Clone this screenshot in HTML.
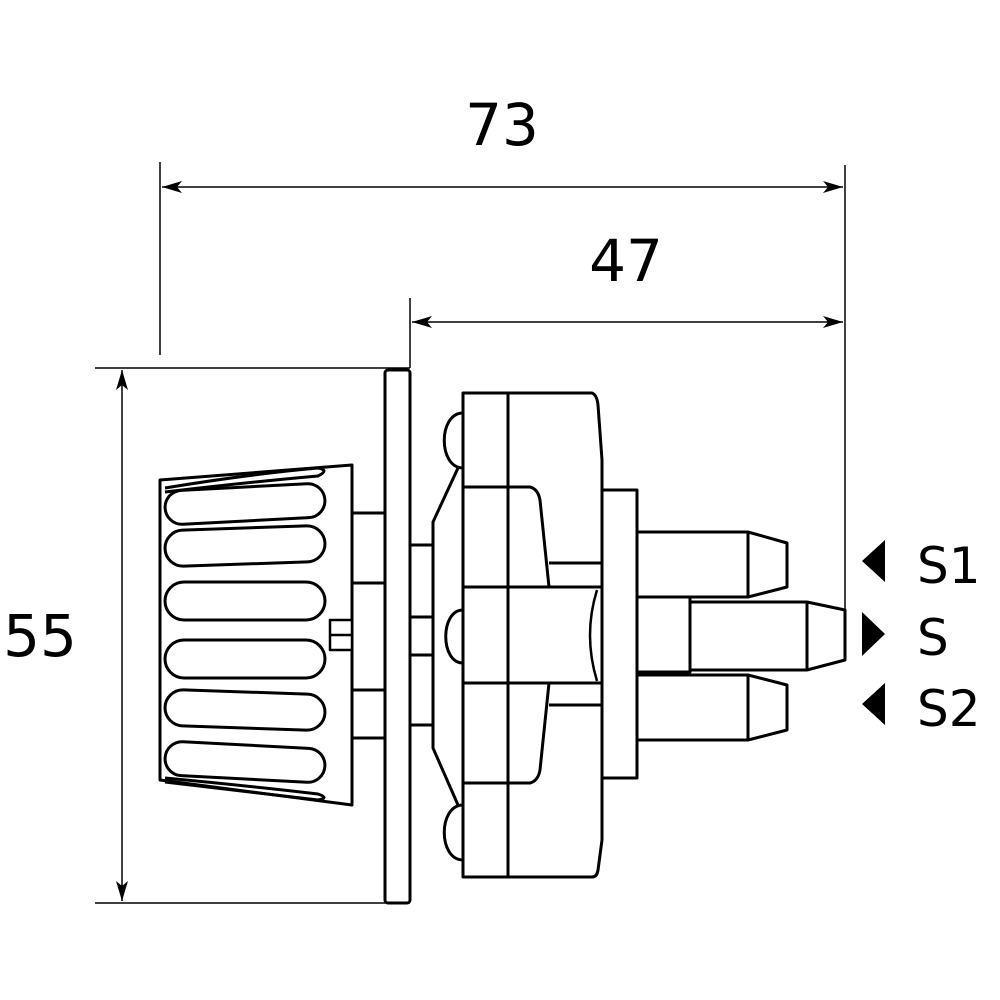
<!DOCTYPE html>
<html><head><style>body{margin:0;background:#fff}svg{display:block}</style></head>
<body>
<svg width="1000" height="1000" viewBox="0 0 1000 1000" xmlns="http://www.w3.org/2000/svg">
<defs>
<marker id="a" viewBox="0 0 20 12" refX="20" refY="6" markerWidth="20" markerHeight="12" markerUnits="userSpaceOnUse" orient="auto-start-reverse"><path d="M0,0 L20,6 L0,12 L5,6 Z" fill="#000"/></marker>
</defs>
<g stroke="#000" stroke-width="2" fill="none">
<line x1="160" y1="162" x2="160" y2="355" stroke-width="1.5"/>
<line x1="845" y1="165" x2="845" y2="660" stroke-width="1.5"/>
<line x1="410" y1="298" x2="410" y2="368" stroke-width="1.5"/>
<line x1="95" y1="368" x2="410" y2="368" stroke-width="1.5"/>
<line x1="95" y1="903" x2="410" y2="903" stroke-width="1.5"/>
<line x1="162" y1="187" x2="843" y2="187" stroke-width="1.5" marker-start="url(#a)" marker-end="url(#a)"/>
<line x1="412" y1="322" x2="843" y2="322" stroke-width="1.5" marker-start="url(#a)" marker-end="url(#a)"/>
<line x1="122" y1="370" x2="122" y2="901" stroke-width="1.5" marker-start="url(#a)" marker-end="url(#a)"/>
</g>
<g stroke="#000" stroke-width="3" fill="#fff" stroke-linejoin="round">
<rect x="385" y="370" width="25" height="533" rx="3"/>
<rect x="352" y="513" width="33" height="225"/>
<line x1="352" y1="583" x2="385" y2="583"/>
<line x1="352" y1="690" x2="385" y2="690"/>
<path d="M160,480 L352,465 L352,805 L160,780 Z"/>
<rect x="330" y="620" width="22" height="30" stroke-width="2.5"/>
<line x1="330" y1="635" x2="352" y2="635" stroke-width="2.5"/>
<g stroke-width="3" fill="none">
<path d="M165,488 Q250,474 318,468 Q330,470 318,476 Q250,482 165,492"/>
<rect x="165" y="487" width="160" height="34" rx="17" transform="rotate(-3 245 504)"/>
<rect x="165" y="528" width="160" height="36" rx="18" transform="rotate(-2 245 546)"/>
<rect x="165" y="582" width="160" height="38" rx="19"/>
<rect x="165" y="640" width="160" height="38" rx="19"/>
<rect x="165" y="692" width="160" height="36" rx="18" transform="rotate(2 245 710)"/>
<rect x="165" y="745" width="160" height="34" rx="17" transform="rotate(3 245 762)"/>
<path d="M165,782 Q250,792 318,800 Q330,798 318,794 Q250,786 165,778"/>
</g>
<rect x="410" y="545" width="23" height="180"/>
<line x1="410" y1="617" x2="433" y2="617"/>
<line x1="410" y1="655" x2="433" y2="655"/>
<path d="M458,468 L433,522 L433,748 L458,805" fill="none"/>
<path d="M463,413 C438,413 438,468 463,468" fill="none"/>
<path d="M463,610 C440,610 440,663 463,663" fill="none"/>
<path d="M463,805 C438,805 438,860 463,860" fill="none"/>
<path d="M463,393 L592,393 Q597,395 598,405 L602,460 L602,840 L598,870 Q597,877 592,877 L463,877 Z"/>
<line x1="508" y1="393" x2="508" y2="877"/>
<path d="M463,487 L530,487 Q538,489 540,500 L549,587" fill="none"/>
<path d="M463,783 L530,783 Q538,781 540,770 L549,683" fill="none"/>
<line x1="463" y1="587" x2="602" y2="587"/>
<line x1="463" y1="683" x2="602" y2="683"/>
<line x1="549" y1="563" x2="602" y2="563"/>
<line x1="549" y1="705" x2="602" y2="705"/>
<path d="M597,590 Q583,635 597,681" fill="none" stroke-width="2.5"/>
<path d="M637,532 L748,532 L787,543 L787,587 L748,597 L637,597"/>
<line x1="748" y1="532" x2="748" y2="597"/>
<rect x="637" y="597" width="53" height="75"/>
<path d="M690,602 L807,602 L845,610 L845,660 L807,670 L690,670 Z"/>
<line x1="807" y1="602" x2="807" y2="670"/>
<path d="M637,675 L748,675 L787,685 L787,730 L748,740 L637,740"/>
<line x1="748" y1="675" x2="748" y2="740"/>
<rect x="602" y="490" width="35" height="288"/>
</g>
<g font-family="'DejaVu Sans','Liberation Sans',sans-serif" font-size="58" fill="#000">
<text x="502" y="145" text-anchor="middle">73</text>
<text x="626" y="281" text-anchor="middle">47</text>
<text x="40" y="656" text-anchor="middle">55</text>
</g>
<g fill="#000">
<polygon points="862,561 885,540 885,582"/>
<polygon points="885,634 862,612 862,656"/>
<polygon points="862,704 885,683 885,725"/>
</g>
<g font-family="'DejaVu Sans','Liberation Sans',sans-serif" font-size="50" fill="#000">
<text x="917" y="583">S1</text>
<text x="917" y="655">S</text>
<text x="917" y="726">S2</text>
</g>
</svg>
</body></html>
